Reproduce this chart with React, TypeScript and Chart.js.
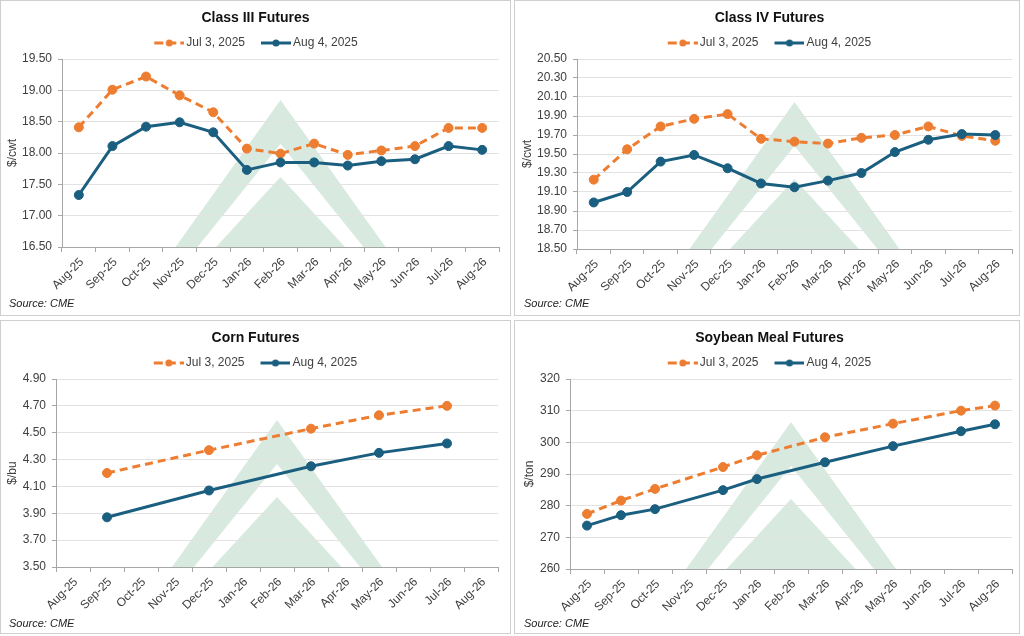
import React, { useEffect, useRef } from "react";
import { Chart, registerables } from "chart.js";

Chart.register(...registerables);
Chart.defaults.font.family = "'Liberation Sans', Arial, sans-serif";

// ---------- data ----------
const months = ["Aug-25", "Sep-25", "Oct-25", "Nov-25", "Dec-25", "Jan-26", "Feb-26", "Mar-26", "Apr-26", "May-26", "Jun-26", "Jul-26", "Aug-26"];
const seriesNames = ["Jul 3, 2025", "Aug 4, 2025"];

const classIIIJul3 = [18.41, 19.01, 19.22, 18.92, 18.65, 18.07, 17.99, 18.15, 17.97, 18.04, 18.11, 18.40, 18.40];
const classIIIAug4 = [17.33, 18.11, 18.42, 18.49, 18.33, 17.73, 17.85, 17.85, 17.80, 17.87, 17.90, 18.11, 18.05];
const classIIITicks = [16.5, 17.0, 17.5, 18.0, 18.5, 19.0, 19.5];

const classIVJul3 = [19.23, 19.55, 19.79, 19.87, 19.92, 19.66, 19.63, 19.61, 19.67, 19.70, 19.79, 19.69, 19.64];
const classIVAug4 = [18.99, 19.10, 19.42, 19.49, 19.35, 19.19, 19.15, 19.22, 19.30, 19.52, 19.65, 19.71, 19.70];
const classIVTicks = [18.5, 18.7, 18.9, 19.1, 19.3, 19.5, 19.7, 19.9, 20.1, 20.3, 20.5];

const cornJul3 = [null, 4.20, null, null, 4.37, null, null, 4.53, null, 4.63, null, 4.70, null];
const cornAug4 = [null, 3.87, null, null, 4.07, null, null, 4.25, null, 4.35, null, 4.42, null];
const cornTicks = [3.5, 3.7, 3.9, 4.1, 4.3, 4.5, 4.7, 4.9];

const soyJul3 = [277.4, 281.6, 285.3, null, 292.2, 295.9, null, 301.6, null, 305.9, null, 310.0, 311.6];
const soyAug4 = [273.7, 277.0, 278.9, null, 284.9, 288.4, null, 293.7, null, 298.8, null, 303.5, 305.7];
const soyTicks = [260, 270, 280, 290, 300, 310, 320];

// ---------- styles ----------
const ORANGE = "#ED7D31";
const BLUE = "#1B5F80";
const TEXT = "#404040";
const AXIS = "#a6a6a6";
const GRID = "#e2e2e2";
const MARK = "#d8eadf";

function legendImage(color: string, dashed: boolean): HTMLCanvasElement {
  const c = document.createElement("canvas");
  c.width = 46;
  c.height = 12;
  const g = c.getContext("2d")!;
  g.strokeStyle = color;
  g.fillStyle = color;
  g.lineWidth = 3;
  if (dashed) g.setLineDash([9, 4]);
  g.beginPath();
  g.moveTo(16, 6);
  g.lineTo(46, 6);
  g.stroke();
  g.setLineDash([]);
  g.beginPath();
  g.arc(31, 6, 3.5, 0, Math.PI * 2);
  g.fill();
  return c;
}

const watermark = {
  id: "watermark",
  beforeDraw(chart: any) {
    const { ctx, chartArea } = chart;
    const { left, right, top, bottom } = chartArea;
    const cx = (left + right) / 2;
    const tri = (h: number, hw: number, color: string) => {
      ctx.beginPath();
      ctx.moveTo(cx, bottom - h);
      ctx.lineTo(cx + hw, bottom);
      ctx.lineTo(cx - hw, bottom);
      ctx.closePath();
      ctx.fillStyle = color;
      ctx.fill();
    };
    ctx.save();
    ctx.beginPath();
    ctx.rect(left, top, right - left, bottom - top);
    ctx.clip();
    tri(147, 105, MARK);
    tri(103, 83, "#ffffff");
    tri(70, 64.5, MARK);
    ctx.restore();
  },
};

type PanelProps = {
  title: string;
  yTitle: string;
  jul: (number | null)[];
  aug: (number | null)[];
  ticks: number[];
  decimals: number;
  left: number;
  top: number;
  width: number;
  height: number;
  yWidth: number;
  xHeight: number;
  padRight: number;
  yTitlePad: number;
  titleShift: number;
  sourceLeft: number;
};

function Panel(p: PanelProps) {
  const ref = useRef<HTMLCanvasElement>(null);
  const cw = p.width - 2;
  const ch = p.height - 2;

  useEffect(() => {
    if (!ref.current) return;
    const imgJul = legendImage(ORANGE, true);
    const imgAug = legendImage(BLUE, false);
    const chart = new Chart(ref.current, {
      type: "line",
      data: {
        labels: months,
        datasets: [
          {
            label: seriesNames[1],
            data: p.aug,
            borderColor: BLUE,
            backgroundColor: BLUE,
            borderWidth: 3,
            pointRadius: 4.5,
            pointBackgroundColor: BLUE,
            pointBorderColor: BLUE,
            pointBorderWidth: 1,
            spanGaps: true,
            tension: 0,
          },
          {
            label: seriesNames[0],
            data: p.jul,
            borderColor: ORANGE,
            backgroundColor: ORANGE,
            borderWidth: 3,
            borderDash: [8, 5],
            pointRadius: 4.5,
            pointBackgroundColor: ORANGE,
            pointBorderColor: ORANGE,
            pointBorderWidth: 1,
            spanGaps: true,
            tension: 0,
          },
        ],
      },
      options: {
        animation: false,
        responsive: false,
        layout: { padding: { top: 32, right: p.padRight, bottom: 0, left: 0 } },
        plugins: {
          tooltip: { enabled: false },
          title: { display: false },
          legend: {
            display: true,
            position: "top",
            labels: {
              usePointStyle: true,
              pointStyleWidth: 38,
              padding: 4,
              color: TEXT,
              font: { size: 12 },
              generateLabels: () => [
                { text: seriesNames[0], pointStyle: imgJul as any, fontColor: TEXT, hidden: false, lineWidth: 0, datasetIndex: 1 } as any,
                { text: seriesNames[1], pointStyle: imgAug as any, fontColor: TEXT, hidden: false, lineWidth: 0, datasetIndex: 0 } as any,
              ],
            },
          },
        },
        scales: {
          x: {
            type: "category",
            offset: true,
            grid: { offset: true, drawOnChartArea: false, drawTicks: true, tickLength: 5, tickColor: AXIS },
            border: { display: true, color: AXIS, width: 1 },
            ticks: {
              autoSkip: false,
              maxRotation: 45,
              minRotation: 45,
              padding: 3,
              labelOffset: 3,
              color: TEXT,
              font: { size: 12 },
            },
            afterFit: (s: any) => {
              s.height = p.xHeight;
            },
          },
          y: {
            min: p.ticks[0],
            max: p.ticks[p.ticks.length - 1],
            afterBuildTicks: (s: any) => {
              s.ticks = p.ticks.map((v) => ({ value: v }));
            },
            grid: { color: GRID, tickColor: AXIS, tickLength: 4, drawTicks: true },
            border: { display: true, color: AXIS, width: 1 },
            ticks: {
              padding: 6,
              color: TEXT,
              font: { size: 12 },
              callback: (v: any) => Number(v).toFixed(p.decimals),
            },
            title: {
              display: true,
              text: p.yTitle,
              color: TEXT,
              font: { size: 12 },
              padding: { top: p.yTitlePad, bottom: 0 },
            },
            afterFit: (s: any) => {
              s.width = p.yWidth;
            },
          },
        },
      },
      plugins: [watermark],
    });
    return () => chart.destroy();
  }, []);

  return (
    <div
      style={{
        position: "absolute",
        left: p.left,
        top: p.top,
        width: p.width,
        height: p.height,
        border: "1px solid #cfcfcf",
        boxSizing: "border-box",
        background: "#fff",
      }}
    >
      <canvas ref={ref} width={cw} height={ch} style={{ position: "absolute", left: 0, top: 0, width: cw, height: ch }} />
      <div
        style={{
          position: "absolute",
          left: p.titleShift,
          top: 6,
          width: cw,
          textAlign: "center",
          font: "bold 14px 'Liberation Sans', Arial, sans-serif",
          lineHeight: "20px",
          color: "#111",
        }}
      >
        {p.title}
      </div>
      <div
        style={{
          position: "absolute",
          left: p.sourceLeft,
          top: 295,
          font: "italic 11px 'Liberation Sans', Arial, sans-serif",
          lineHeight: "14px",
          color: "#222",
        }}
      >
        Source: CME
      </div>
    </div>
  );
}

export default function App() {
  return (
    <div style={{ position: "fixed", left: 0, top: 0, width: 1024, height: 636, background: "#fff", overflow: "hidden" }}>
      <Panel title="Class III Futures" yTitle="$/cwt" jul={classIIIJul3} aug={classIIIAug4} ticks={classIIITicks} decimals={2}
        left={0} top={0} width={511} height={316} yWidth={61} xHeight={68} padRight={11} yTitlePad={4} titleShift={0} sourceLeft={8} />
      <Panel title="Class IV Futures" yTitle="$/cwt" jul={classIVJul3} aug={classIVAug4} ticks={classIVTicks} decimals={2}
        left={514} top={0} width={506} height={316} yWidth={62} xHeight={66} padRight={7} yTitlePad={5} titleShift={2.5} sourceLeft={9} />
      <Panel title="Corn Futures" yTitle="$/bu" jul={cornJul3} aug={cornAug4} ticks={cornTicks} decimals={2}
        left={0} top={320} width={511} height={314} yWidth={55} xHeight={66} padRight={12} yTitlePad={4} titleShift={0} sourceLeft={8} />
      <Panel title="Soybean Meal Futures" yTitle="$/ton" jul={soyJul3} aug={soyAug4} ticks={soyTicks} decimals={0}
        left={514} top={320} width={506} height={314} yWidth={55} xHeight={64} padRight={7} yTitlePad={7} titleShift={2.5} sourceLeft={9} />
    </div>
  );
}
